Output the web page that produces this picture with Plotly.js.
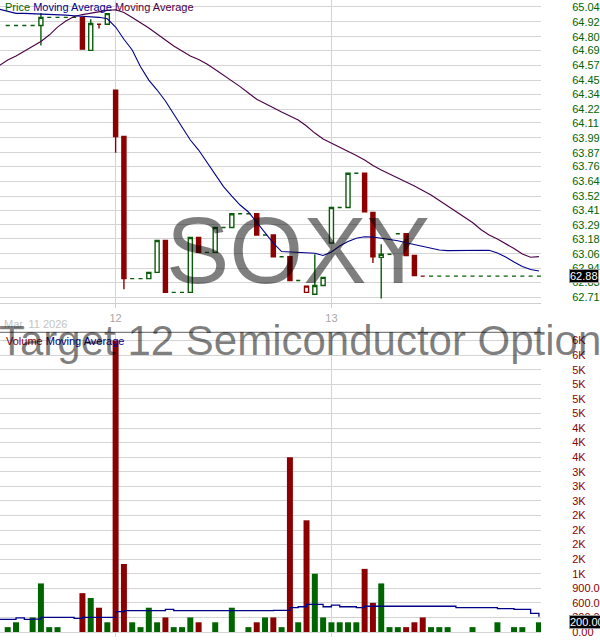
<!DOCTYPE html>
<html>
<head>
<meta charset="utf-8">
<script src="https://cdn.plot.ly/plotly-3.0.1.min.js"></script>
<style>
html,body{margin:0;padding:0;background:#fff;}
#chart{width:600px;height:640px;}
</style>
</head>
<body>
<div id="chart"></div>
<script>
// ---- data (15-minute bars, Mar 11 12:45 -> Mar 13 close) ----
var dayTickIndex = [13, 39];
var dayTickLabels = ['12', '13'];
var dateLabel = 'Mar, 11 2026';

var candleOpen  = [64.89,64.89,64.89,64.89,64.89,64.955,64.955,64.955,64.955,64.955,
                   64.69,64.90,64.90,64.37,64.00,62.86,62.86,62.86,62.91,63.165,
                   62.75,62.75,62.75,63.19,63.07,63.07,63.27,63.27,63.38,63.38,
                   63.38,63.21,63.21,63.035,63.035,62.845,62.75,62.735,62.805,63.145,
                   63.43,63.43,63.705,63.705,63.39,63.03,63.055,63.22,63.22,63.045,
                   62.88,62.88,62.88,62.88,62.88,62.88,62.88,62.88,62.88,62.88,
                   62.88,62.88,62.88,62.88,62.88];
var candleHigh  = [64.89,64.89,64.89,64.89,64.99,64.955,64.955,64.955,64.955,64.955,
                   64.94,64.90,64.985,64.37,64.00,62.86,62.86,62.91,63.165,63.165,
                   62.75,62.75,63.19,63.19,63.07,63.27,63.27,63.38,63.38,63.38,
                   63.38,63.21,63.21,63.035,63.035,62.845,62.80,63.055,62.87,63.43,
                   63.43,63.705,63.705,63.705,63.39,63.135,63.055,63.22,63.22,63.045,
                   62.88,62.88,62.88,62.88,62.88,62.88,62.88,62.88,62.88,62.88,
                   62.88,62.88,62.88,62.88,62.88];
var candleLow   = [64.89,64.89,64.89,64.89,64.73,64.955,64.955,64.955,64.955,64.70,
                   64.685,64.865,64.90,63.87,62.775,62.86,62.86,62.86,62.91,62.75,
                   62.75,62.75,62.75,63.07,63.07,63.07,63.27,63.27,63.38,63.38,
                   63.21,63.21,63.035,63.035,62.845,62.845,62.75,62.735,62.805,63.145,
                   63.43,63.43,63.705,63.395,62.985,62.70,63.055,63.22,63.045,62.885,
                   62.88,62.88,62.88,62.88,62.88,62.88,62.88,62.88,62.88,62.88,
                   62.88,62.88,62.88,62.88,62.88];
var candleClose = [64.89,64.89,64.89,64.89,64.955,64.955,64.955,64.955,64.955,64.70,
                   64.905,64.90,64.985,64.00,62.86,62.86,62.86,62.91,63.165,62.75,
                   62.75,62.75,63.19,63.07,63.07,63.27,63.27,63.38,63.38,63.38,
                   63.21,63.21,63.035,63.035,62.845,62.845,62.80,62.805,62.87,63.43,
                   63.43,63.705,63.705,63.395,63.035,63.055,63.055,63.22,63.045,62.885,
                   62.88,62.88,62.88,62.88,62.88,62.88,62.88,62.88,62.88,62.88,
                   62.88,62.88,62.88,62.88,62.88];
var volume = [100,200,0,300,1000,100,100,0,0,800,
              700,500,200,6000,1400,200,100,500,200,300,
              100,100,300,200,0,200,0,500,0,100,
              200,300,300,100,3600,200,2300,1200,300,200,
              200,200,200,1300,600,1000,100,100,100,200,
              300,100,100,100,0,0,100,0,0,200,
              0,100,100,0,200];
// moving averages start one slot earlier (index -1)
var priceMaShort = [65.02,65.006,64.987,64.987,64.985,64.98,64.977,64.975,64.973,64.968,
                    64.965,64.96,64.955,64.943,64.877,64.779,64.693,64.559,64.452,64.372,
                    64.284,64.18,64.071,63.971,63.891,63.795,63.69,63.598,63.522,63.45,
                    63.394,63.314,63.226,63.145,63.077,63.073,63.069,63.065,63.063,63.045,
                    63.073,63.121,63.157,63.183,63.196,63.193,63.185,63.175,63.164,63.148,
                    63.133,63.113,63.10,63.089,63.084,63.084,63.084,63.085,63.086,63.087,
                    63.065,63.033,62.993,62.957,62.933,62.921];
var priceMaLong = [64.569,64.613,64.645,64.685,64.721,64.761,64.813,64.877,64.925,64.961,
                   64.977,64.99,64.999,65.011,65.016,64.994,64.953,64.913,64.869,64.821,
                   64.773,64.725,64.685,64.645,64.617,64.581,64.537,64.493,64.449,64.399,
                   64.348,64.298,64.264,64.228,64.196,64.164,64.132,64.084,64.027,63.979,
                   63.947,63.915,63.883,63.847,63.811,63.767,63.731,63.699,63.671,63.639,
                   63.602,63.566,63.53,63.486,63.442,63.402,63.358,63.31,63.254,63.21,
                   63.177,63.141,63.101,63.057,63.031,63.036];
var volumeMa = [260,260,290,260,265,300,300,300,300,280,
                300,300,300,300,420,440,440,440,440,440,
                465,440,440,440,440,440,440,440,440,440,
                440,440,440,445,445,500,520,570,570,520,
                555,520,520,500,530,530,530,530,530,530,
                530,530,530,530,530,500,500,500,500,500,
                480,480,465,465,385,315];
var priceTickLabels = ['62.71','62.83','62.94','63.06','63.18','63.29','63.41','63.52','63.64','63.76',
                       '63.87','63.99','64.11','64.22','64.34','64.45','64.57','64.69','64.80','64.92','65.04'];
var volumeTickValues = [0,300,600,900,1200,1500,1800,2100,2400,2700,3000,3300,3600,3900,4200,4500,4800,5100,5400,5700,6000];
var volumeTickLabels = ['0.00','300.00','600.00','900.00','1K','2K','2K','2K','2K','3K','3K','3K','4K','4K','4K','5K','5K','5K','5K','6K','6K'];
var lastPriceLabel = '62.88';
var lastVolumeLabel = '200.00';
var symbol = 'SOXY';
var fundName = 'Target 12 Semiconductor Option';

// ---- build ----
var GREEN = '#0a5c0a', RED = '#8b0000', VGREEN = '#006400';
var n = candleClose.length;
var idx = [], maIdx = [];
for (var i = 0; i < n; i++) idx.push(i);
for (var j = -1; j < n; j++) maIdx.push(j);

var groups = {gh:{x:[],o:[],h:[],l:[],c:[]}, rh:{x:[],o:[],h:[],l:[],c:[]},
              rf:{x:[],o:[],h:[],l:[],c:[]}, gf:{x:[],o:[],h:[],l:[],c:[]}};
var volColors = [];
for (var k = 0; k < n; k++) {
  var prev = k > 0 ? candleClose[k-1] : candleClose[k];
  var up = candleClose[k] >= prev - 1e-9;
  var hollow = candleClose[k] >= candleOpen[k];
  var g = up ? (hollow ? 'gh' : 'gf') : (hollow ? 'rh' : 'rf');
  groups[g].x.push(k); groups[g].o.push(candleOpen[k]); groups[g].h.push(candleHigh[k]);
  groups[g].l.push(candleLow[k]); groups[g].c.push(candleClose[k]);
  volColors.push(up ? VGREEN : RED);
}
function candle(gr, lineColor, fill) {
  var st = {line:{color:lineColor, width:1.4}, fillcolor:fill};
  return {type:'candlestick', x:gr.x, open:gr.o, high:gr.h, low:gr.l, close:gr.c,
          increasing:st, decreasing:st, whiskerwidth:0, xaxis:'x', yaxis:'y',
          hoverinfo:'skip', showlegend:false};
}
var traces = [
  {type:'scatter', mode:'lines', x:maIdx, y:priceMaLong, line:{color:'#4b0046', width:1.1}, xaxis:'x', yaxis:'y', hoverinfo:'skip'},
  {type:'scatter', mode:'lines', x:maIdx, y:priceMaShort, line:{color:'#00008b', width:1.1}, xaxis:'x', yaxis:'y', hoverinfo:'skip'},
  candle(groups.gh, GREEN, '#ffffff'),
  candle(groups.gf, GREEN, GREEN),
  candle(groups.rh, RED, '#ffffff'),
  candle(groups.rf, RED, RED),
  {type:'bar', x:idx, y:volume, marker:{color:volColors, line:{width:0}}, xaxis:'x', yaxis:'y2', hoverinfo:'skip'},
  {type:'scatter', mode:'lines', x:maIdx, y:volumeMa, line:{color:'#00008b', width:1.3, shape:'hv'}, xaxis:'x', yaxis:'y2', hoverinfo:'skip'}
];

var plotW = 541, plotH = 637;
function py(px){ return 1 - px/plotH; }
function pxX(px){ return px/plotW; }
var priceTickVals = priceTickLabels.map(Number);

var layout = {
  width:600, height:640,
  margin:{l:0, r:59, t:0, b:3, pad:0},
  paper_bgcolor:'#ffffff', plot_bgcolor:'#ffffff',
  showlegend:false, bargap:0.28, boxgap:0.3,
  font:{family:'"Liberation Sans", Arial, sans-serif', size:11},
  xaxis:{range:[-0.93, 64.25], anchor:'y', tickmode:'array', tickvals:dayTickIndex, ticktext:dayTickLabels,
         showgrid:true, gridcolor:'#d4d4d4', gridwidth:1, zeroline:false,
         showline:true, linecolor:'#cfcfcf', linewidth:1, ticks:'outside', ticklen:4, tickcolor:'#cfcfcf',
         tickfont:{color:'#a8a8a8', size:11}, rangeslider:{visible:false}, fixedrange:true},
  yaxis:{domain:[py(303.3), 1], range:[62.662, 65.094], side:'right', anchor:'x',
         tickmode:'array', tickvals:priceTickVals, ticktext:priceTickLabels,
         showgrid:true, gridcolor:'#d4d4d4', zeroline:false, showline:false,
         ticks:'outside', ticklen:28, tickcolor:'rgba(0,0,0,0)',
         tickfont:{color:'#006400', size:11}},
  yaxis2:{domain:[0, py(332.3)], range:[-103, 6171], side:'right', anchor:'x',
         tickmode:'array', tickvals:volumeTickValues, ticktext:volumeTickLabels,
         showgrid:true, gridcolor:'#d4d4d4', zeroline:false, showline:false,
         ticks:'outside', ticklen:28, tickcolor:'rgba(0,0,0,0)',
         tickfont:{color:'#8b0000', size:11}},
  shapes:[
    {type:'line', xref:'paper', yref:'paper', x0:0, x1:1, y0:py(332.3), y1:py(332.3), line:{color:'#606060', width:1}}
  ],
  annotations:[
    {xref:'paper', yref:'paper', x:pxX(3), y:py(6.7), xanchor:'left', yanchor:'middle', showarrow:false,
     text:'<span style="color:#006400">Price</span> <span style="color:#00008b">Moving Average</span> <span style="color:#4b0046">Moving Average</span>',
     font:{size:11}},
    {xref:'paper', yref:'paper', x:pxX(4), y:py(341), xanchor:'left', yanchor:'middle', showarrow:false,
     text:'<span style="color:#8b0000">Volume</span> <span style="color:#00008b">Moving Average</span>',
     font:{size:11}},
    {xref:'paper', yref:'paper', x:pxX(2), y:py(324), xanchor:'left', yanchor:'middle', showarrow:false,
     text:dateLabel, font:{size:11, color:'#c4c4c4'}},
    {xref:'paper', yref:'paper', x:pxX(298), y:py(250), xanchor:'center', yanchor:'middle', showarrow:false,
     text:symbol, font:{size:95, color:'rgba(0,0,0,0.5)', family:'"Liberation Sans", Arial, sans-serif'}},
    {xref:'paper', yref:'paper', x:pxX(300), y:py(340), xanchor:'center', yanchor:'middle', showarrow:false,
     text:fundName, font:{size:42, color:'rgba(0,0,0,0.5)', family:'"Liberation Sans", Arial, sans-serif'}},
    {xref:'paper', yref:'y', x:pxX(569), y:Number(lastPriceLabel), xanchor:'left', yanchor:'middle', showarrow:false,
     text:lastPriceLabel, bgcolor:'#000000', bordercolor:'#9a9a9a', borderwidth:1, borderpad:0,
     font:{size:11, color:'#ffffff'}},
    {xref:'paper', yref:'y2', x:pxX(569), y:Number(lastVolumeLabel), xanchor:'left', yanchor:'middle', showarrow:false,
     text:lastVolumeLabel, bgcolor:'#000000', bordercolor:'#9a9a9a', borderwidth:1, borderpad:0,
     font:{size:11, color:'#ffffff'}}
  ]
};
Plotly.newPlot('chart', traces, layout, {staticPlot:true, displayModeBar:false});
</script>
</body>
</html>
